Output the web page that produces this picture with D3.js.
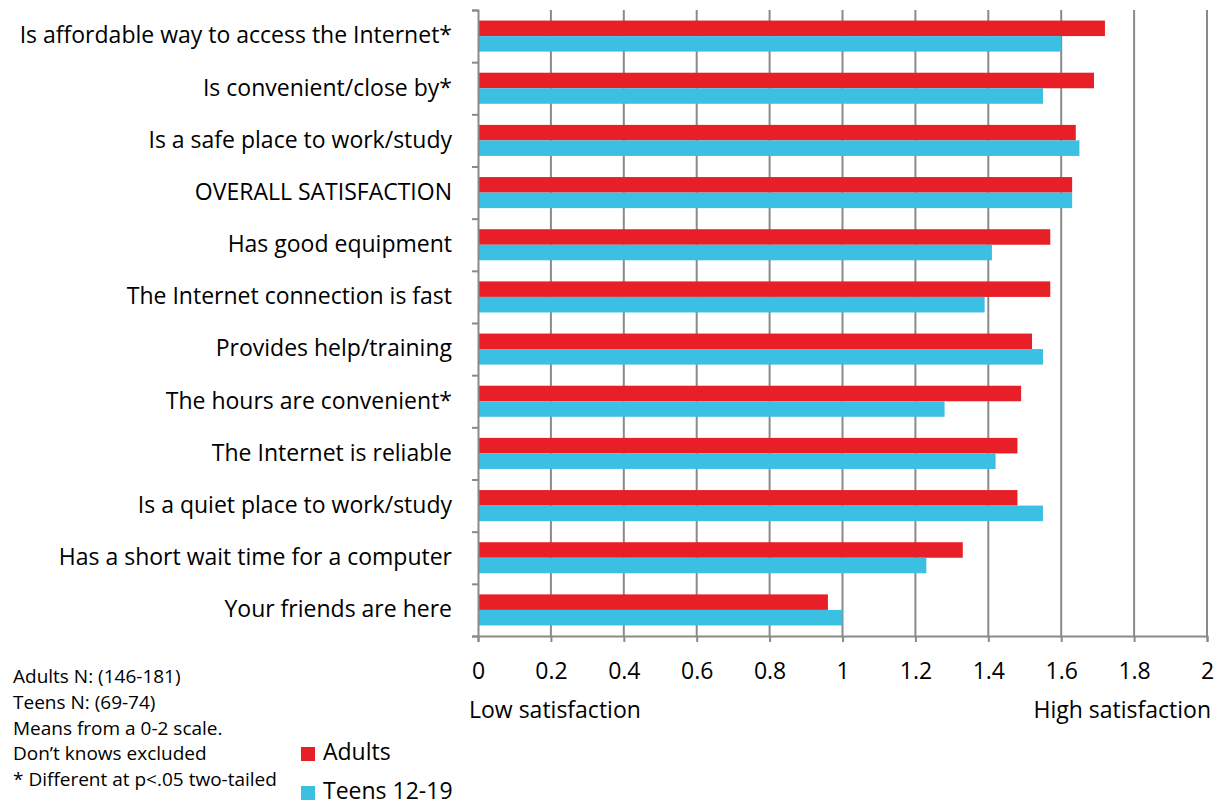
<!DOCTYPE html>
<html>
<head>
<meta charset="utf-8">
<script src="https://cdn.jsdelivr.net/npm/d3@7"></script>
<style>
  body { margin: 0; background: #fff; }
  svg text { font-family: "Open Sans", sans-serif; fill: #000; }
</style>
</head>
<body>
<div id="chart"></div>
<script>
const categories = [
  'Is affordable way to access the Internet*',
  'Is convenient/close by*',
  'Is a safe place to work/study',
  'OVERALL SATISFACTION',
  'Has good equipment',
  'The Internet connection is fast',
  'Provides help/training',
  'The hours are convenient*',
  'The Internet is reliable',
  'Is a quiet place to work/study',
  'Has a short wait time for a computer',
  'Your friends are here'
];
const adults = [1.72, 1.69, 1.64, 1.63, 1.57, 1.57, 1.52, 1.49, 1.48, 1.48, 1.33, 0.96];
const teens  = [1.60, 1.55, 1.65, 1.63, 1.41, 1.39, 1.55, 1.28, 1.42, 1.55, 1.23, 1.00];
const seriesNames = ['Adults', 'Teens 12-19'];
const seriesColors = ['#e81f27', '#3bbfe3'];
const xTicks = [0, 0.2, 0.4, 0.6, 0.8, 1, 1.2, 1.4, 1.6, 1.8, 2];
const notes = [
  'Adults N: (146-181)',
  'Teens N: (69-74)',
  'Means from a 0-2 scale.',
  'Don\u2019t knows excluded',
  '* Different at p<.05 two-tailed'
];

const W = 1220, H = 803;
const plot = { left: 478, right: 1207, top: 10, bottom: 636 };

const svg = d3.select('#chart').append('svg')
  .attr('width', W).attr('height', H);

const x = d3.scaleLinear().domain([0, 2]).range([plot.left, plot.right]);
const y = d3.scaleBand().domain(categories).range([plot.top, plot.bottom]);
const inner = d3.scaleBand().domain(seriesNames).range([0, y.bandwidth()]).paddingOuter(0.68);

// vertical gridlines
svg.append('g').selectAll('line').data(xTicks.slice(1))
  .join('line')
  .attr('x1', d => x(d)).attr('x2', d => x(d))
  .attr('y1', plot.top).attr('y2', plot.bottom)
  .attr('stroke', '#8a8a8a').attr('stroke-width', 2);

// bars
const rows = categories.map((c, i) => ({ cat: c, vals: [adults[i], teens[i]] }));
const rowG = svg.append('g').selectAll('g').data(rows)
  .join('g').attr('transform', d => `translate(0,${y(d.cat)})`);
rowG.selectAll('rect').data(d => d.vals.map((v, j) => ({ v, s: seriesNames[j], c: seriesColors[j] })))
  .join('rect')
  .attr('x', x(0))
  .attr('y', d => inner(d.s))
  .attr('width', d => x(d.v) - x(0))
  .attr('height', inner.bandwidth())
  .attr('fill', d => d.c);

// bottom axis
const xAxis = svg.append('g').attr('transform', `translate(0,${plot.bottom})`)
  .call(d3.axisBottom(x).tickValues(xTicks).tickSize(6).tickPadding(21).tickFormat(d => d3.format('')(d)));
xAxis.select('.domain').attr('stroke', '#8a8a8a').attr('stroke-width', 2);
xAxis.selectAll('.tick line').attr('stroke', '#8a8a8a').attr('stroke-width', 2);
xAxis.selectAll('.tick text').style('font-size', '23px').attr('fill', '#000');

// left axis with ticks between categories
const idx = d3.scaleLinear().domain([0, categories.length]).range([plot.top, plot.bottom]);
const yAxis = svg.append('g').attr('transform', `translate(${plot.left},0)`)
  .call(d3.axisLeft(idx).tickValues(d3.range(categories.length + 1)).tickSize(6).tickFormat(''));
yAxis.select('.domain').attr('stroke', '#8a8a8a').attr('stroke-width', 2);
yAxis.selectAll('.tick line').attr('stroke', '#8a8a8a').attr('stroke-width', 2);

// category labels
const yLabels = svg.append('g').attr('transform', `translate(${plot.left},0)`)
  .call(d3.axisLeft(y).tickSize(0).tickPadding(26));
yLabels.select('.domain').remove();
yLabels.selectAll('.tick text').style('font-size', '23px').attr('fill', '#000');

// axis end captions
svg.append('text').attr('x', 469).attr('y', 718).style('font-size', '23px').text('Low satisfaction');
svg.append('text').attr('x', 1211).attr('y', 718).attr('text-anchor', 'end').style('font-size', '23px').text('High satisfaction');

// notes
svg.append('g').selectAll('text').data(notes)
  .join('text')
  .attr('x', 13)
  .attr('y', (d, i) => 683 + i * 25.8)
  .style('font-size', '19px')
  .text(d => d);

// legend
const legend = svg.append('g').selectAll('g').data(seriesNames)
  .join('g')
  .attr('transform', (d, i) => `translate(301,${747 + i * 39})`);
legend.append('rect').attr('width', 14).attr('height', 14).attr('fill', (d, i) => seriesColors[i]);
legend.append('text').attr('x', 22).attr('y', 13).style('font-size', '23px').text(d => d);
</script>
</body>
</html>
